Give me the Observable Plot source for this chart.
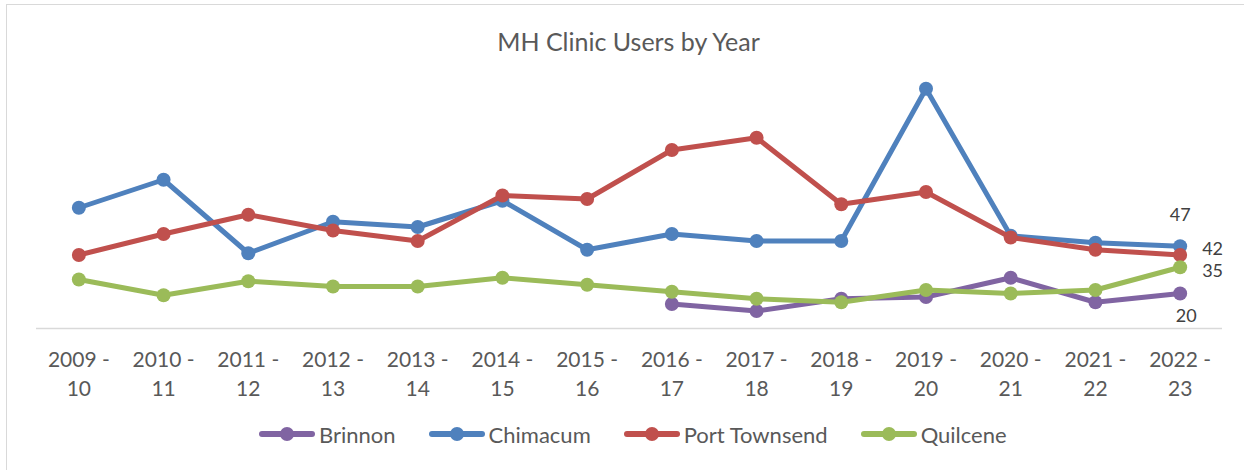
<!DOCTYPE html>
<html>
<head>
<meta charset="utf-8">
<script src="https://cdn.jsdelivr.net/npm/d3@7"></script>
<script src="https://cdn.jsdelivr.net/npm/@observablehq/plot@0.6"></script>
<style>
  html, body { margin: 0; padding: 0; background: #fff; overflow: hidden; }
  #wrap { position: relative; width: 1244px; height: 470px; overflow: hidden; font-family: Lato, "Open Sans", sans-serif; }
  #frame { position: absolute; left: 6px; top: 4px; width: 1400px; height: 600px; border-left: 1px solid #d9d9d9; border-top: 1px solid #d9d9d9; }
  #title { position: absolute; top: 26px; left: 0; width: 1257px; text-align: center; font-size: 25px; line-height: 30px; color: #595959; }
  #chart { position: absolute; left: 0; top: 0; }
  #legend { position: absolute; top: 419px; left: 259px; height: 30px; display: flex; align-items: center; gap: 33px; font-size: 22px; color: #595959; }
  .item { display: flex; align-items: center; gap: 4px; white-space: nowrap; }
</style>
</head>
<body>
<div id="wrap">
  <div id="frame"></div>
  <div id="chart"></div>
  <div id="title">MH Clinic Users by Year</div>
  <div id="legend"></div>
</div>
<script>
// ---- data ----
const years = ["2009 - 10", "2010 - 11", "2011 - 12", "2012 - 13", "2013 - 14", "2014 - 15", "2015 - 16",
               "2016 - 17", "2017 - 18", "2018 - 19", "2019 - 20", "2020 - 21", "2021 - 22", "2022 - 23"];
const seriesNames = ["Brinnon", "Chimacum", "Port Townsend", "Quilcene"];
const brinnon      = [null, null, null, null, null, null, null, 14, 10, 17, 18, 29, 15, 20];
const chimacum     = [69, 85, 43, 61, 58, 73, 45, 54, 50, 50, 137, 53, 49, 47];
const portTownsend = [42, 54, 65, 56, 50, 76, 74, 102, 109, 71, 78, 52, 45, 42];
const quilcene     = [28, 19, 27, 24, 24, 29, 25, 21, 17, 15, 22, 20, 22, 35];

const colors = ["#8064A2", "#4F81BD", "#C0504D", "#9BBB59"];
const seriesValues = [brinnon, chimacum, portTownsend, quilcene];

const rows = seriesNames.map((name, i) =>
  years.map((year, j) => ({series: name, year, value: seriesValues[i][j]}))
);
const lastYear = years[years.length - 1];

// per-series end-label offsets (styling)
const labelOpts = [
  {dx: 6, dy: 23, textAnchor: "middle"},
  {dx: 0, dy: -31, textAnchor: "middle"},
  {dx: 22, dy: -6, textAnchor: "start"},
  {dx: 22, dy: 4, textAnchor: "start"}
];

const marks = [
  Plot.ruleY([0], {stroke: "#d9d9d9", strokeWidth: 1.3}),
  Plot.axisX({
    tickSize: 0, tickPadding: 18, fontSize: 21, fill: "#595959", lineHeight: 1.38, label: null,
    tickFormat: d => d.replace(" - ", " -\n")
  })
];
rows.forEach((data, i) => {
  const defined = data.filter(d => d.value != null);
  marks.push(
    Plot.line(defined, {x: "year", y: "value", stroke: colors[i], strokeWidth: 5, strokeLinejoin: "round", strokeLinecap: "round"}),
    Plot.dot(defined, {x: "year", y: "value", r: 7, fill: colors[i], stroke: "none"})
  );
});
rows.forEach((data, i) => {
  marks.push(
    Plot.text(data.filter(d => d.year === lastYear), {
      x: "year", y: "value", text: d => String(d.value),
      fontSize: 18, fill: "#404040", ...labelOpts[i]
    })
  );
});

const chart = Plot.plot({
  width: 1244,
  height: 470,
  marginLeft: 36,
  marginRight: 22,
  marginTop: 48,
  marginBottom: 142,
  style: {fontFamily: "Lato, 'Open Sans', sans-serif", background: "transparent", overflow: "visible"},
  x: {type: "point", domain: years, padding: 0.5, round: false, axis: null},
  y: {domain: [0, 160], axis: null},
  marks
});
document.getElementById("chart").appendChild(chart);

// legend
const legend = document.getElementById("legend");
seriesNames.forEach((name, i) => {
  const item = document.createElement("div");
  item.className = "item";
  item.innerHTML = `<svg width="56" height="16"><line x1="3" x2="53" y1="8" y2="8" stroke="${colors[i]}" stroke-width="6" stroke-linecap="round"/><circle cx="28" cy="8" r="7" fill="${colors[i]}"/></svg><span>${name}</span>`;
  legend.appendChild(item);
});
</script>
</body>
</html>
